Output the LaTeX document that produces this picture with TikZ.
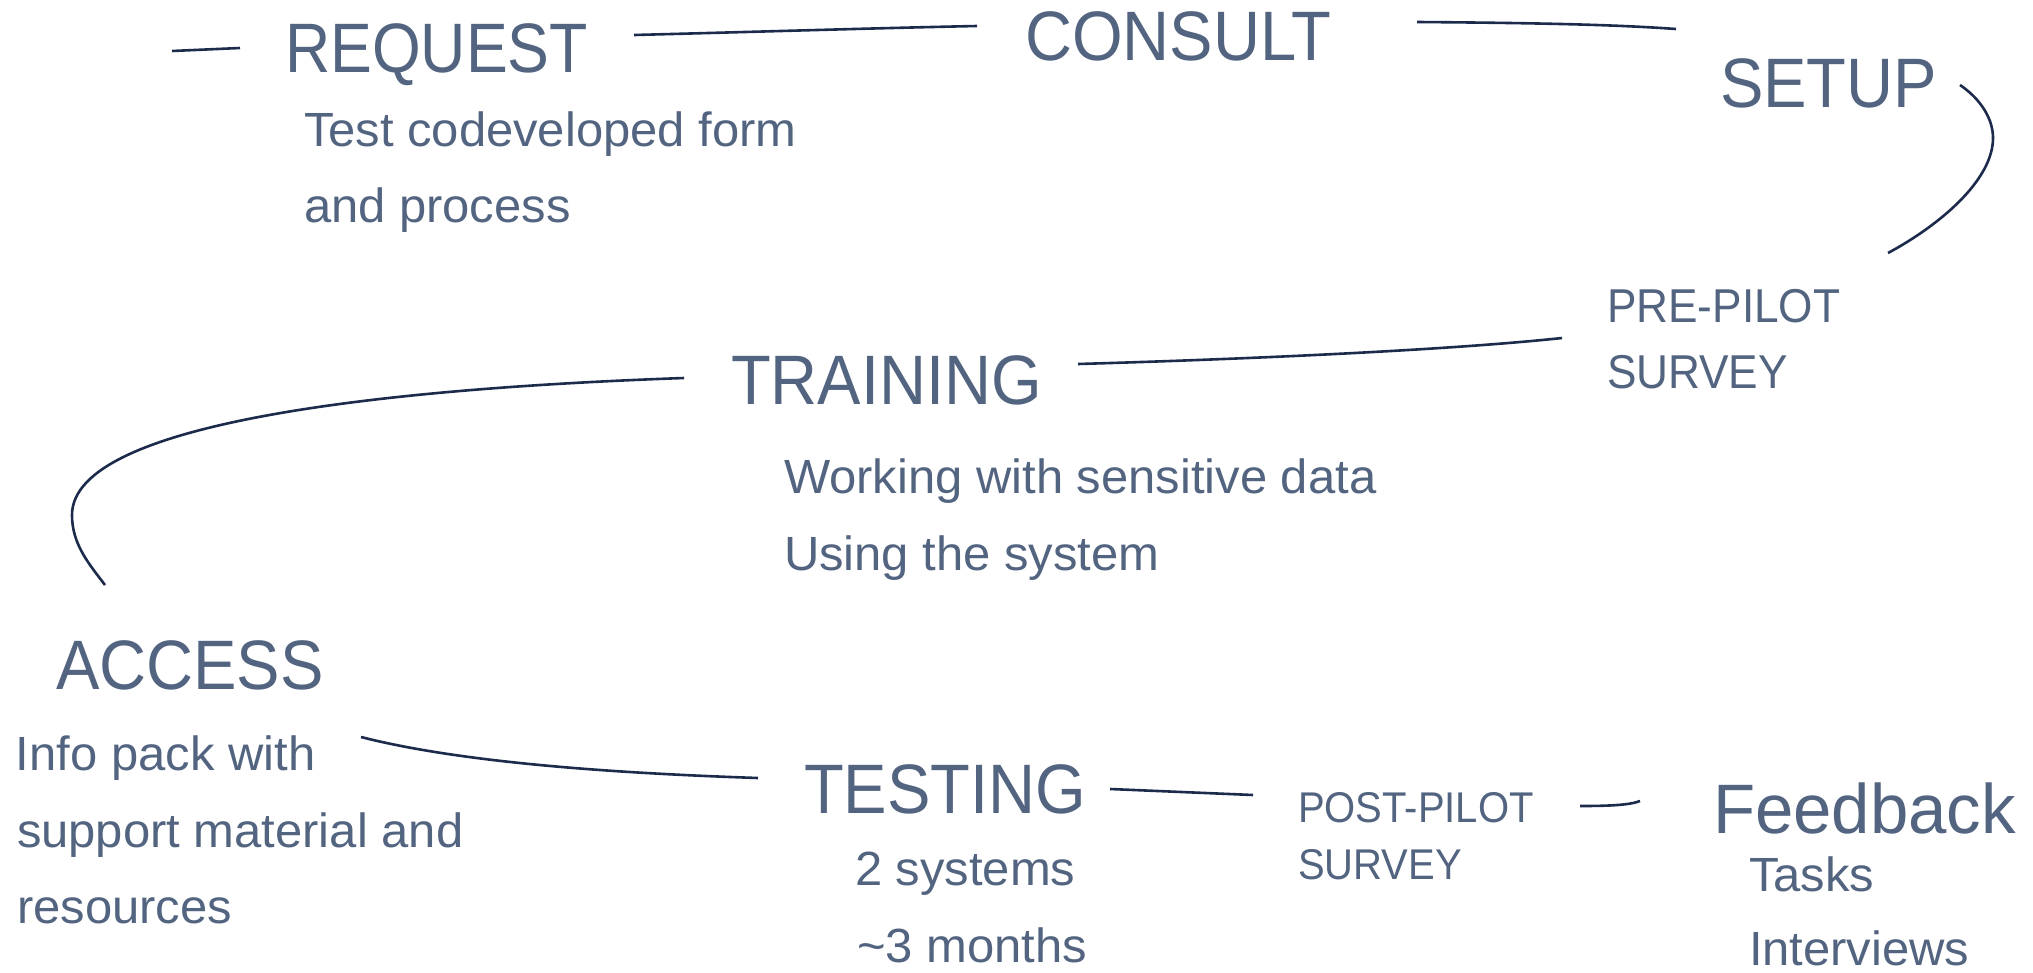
\documentclass[tikz,border=0pt]{standalone}
\usepackage{fontspec}
\setmainfont{Liberation Sans}
\newfontfamily\capsfont[FakeStretch=0.93]{Liberation Sans}
\newfontfamily\reqfont[FakeStretch=0.895]{Liberation Sans}
\newfontfamily\fbfont[FakeStretch=0.985]{Liberation Sans}
\newfontfamily\bodyfont[FakeStretch=1.02]{Liberation Sans}
\definecolor{txt}{RGB}{82,100,128}
\definecolor{ln}{RGB}{28,43,75}
\begin{document}
\begin{tikzpicture}[x=1pt,y=-1pt,
  lbl/.style={anchor=base west,inner sep=0pt,outer sep=0pt,text=txt},
  head/.style={lbl,font=\capsfont\fontsize{70}{84}\selectfont},
  body/.style={lbl,font=\bodyfont\fontsize{48}{56}\selectfont},
  surv/.style={lbl,font=\capsfont\fontsize{47.5}{56}\selectfont},
  surv2/.style={lbl,font=\capsfont\fontsize{43}{52}\selectfont},
  conn/.style={draw=ln,line width=2.6pt}]
\useasboundingbox[fill=white] (0,0) rectangle (2033,972);

% texts
\node[head,font=\reqfont\fontsize{70}{84}\selectfont] (request) at (285,72) {REQUEST};
\node[body] (req1) at (304,146) {Test codeveloped form};
\node[body] (req2) at (304,222) {and process};
\node[head] (consult) at (1025,60) {CONSULT};
\node[head] (setup) at (1720,107) {SETUP};
\node[surv] (pre1) at (1607,322) {PRE-PILOT};
\node[surv] (pre2) at (1607,388) {SURVEY};
\node[head] (training) at (731,404) {TRAINING};
\node[body] (tr1) at (784,493) {Working with sensitive data};
\node[body] (tr2) at (784,570) {Using the system};
\node[head] (access) at (56,689) {ACCESS};
\node[body] (ac1) at (16,770) {Info pack with};
\node[body] (ac2) at (17,847) {support material and};
\node[body] (ac3) at (17,923) {resources};
\node[head] (testing) at (804,813) {TESTING};
\node[body] (te1) at (855,885) {2 systems};
\node[body] (te2) at (857,962) {\textasciitilde 3 months};
\node[surv2] (post1) at (1298,822) {POST-PILOT};
\node[surv2] (post2) at (1298,879) {SURVEY};
\node[head,font=\fbfont\fontsize{70}{84}\selectfont] (feedback) at (1713,833) {Feedback};
\node[body] (fb1) at (1749,891) {Tasks};
\node[body] (fb2) at (1749,965) {Interviews};

% connector end points
\coordinate (a1) at (172,51);   \coordinate (a2) at (240,48);
\coordinate (b1) at (634,35);   \coordinate (b2) at (977,26);
\coordinate (c1) at (1417,22);  \coordinate (c2) at (1676,29);
\coordinate (d1) at (1960,85);  \coordinate (dm) at (1993,138); \coordinate (d2) at (1888,253);
\coordinate (e1) at (1562,338); \coordinate (e2) at (1078,364);
\coordinate (f1) at (684,378);  \coordinate (fm) at (72,515);   \coordinate (f2) at (105,585);
\coordinate (g1) at (361,737);  \coordinate (g2) at (758,778);
\coordinate (h1) at (1110,789); \coordinate (h2) at (1253,795);
\coordinate (i1) at (1580,806); \coordinate (i2) at (1640,801);

% connectors
\draw[conn] (a1) -- (a2);
\draw[conn] (b1) .. controls (750,32) and (880,28) .. (b2);
\draw[conn] (c1) .. controls (1550,23) and (1620,25) .. (c2);
\draw[conn] (d1) .. controls (1982,100) and (1993,120) .. (dm)
                 .. controls (1993,180) and (1940,225) .. (d2);
\draw[conn] (e1) .. controls (1450,350) and (1250,359) .. (e2);
\draw[conn] (f1) .. controls (400,388) and (72,420) .. (fm)
                 .. controls (72,545) and (90,565) .. (f2);
\draw[conn] (g1) .. controls (470,765) and (640,774) .. (g2);
\draw[conn] (h1) -- (h2);
\draw[conn] (i1) .. controls (1610,806) and (1630,805) .. (i2);
\end{tikzpicture}
\end{document}
